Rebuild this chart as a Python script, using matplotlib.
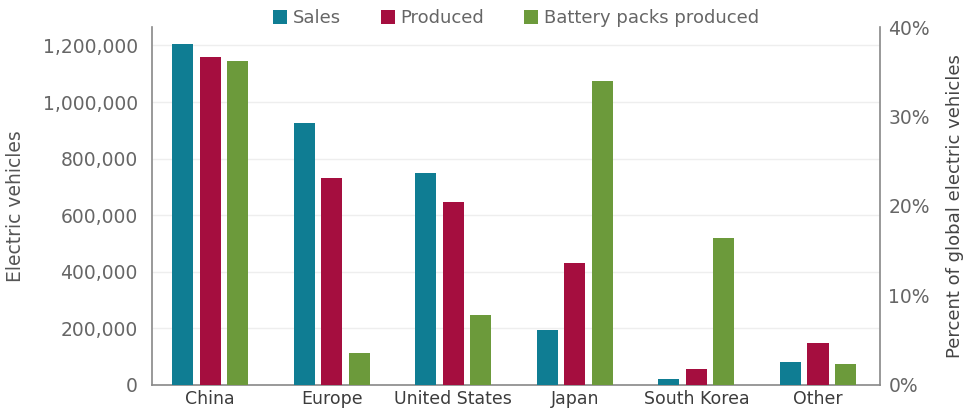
import numpy as np
import matplotlib
matplotlib.use("Agg")
import matplotlib.pyplot as plt
from matplotlib.ticker import FuncFormatter

regions = ["China", "Europe", "United States", "Japan", "South Korea", "Other"]
sales = [1207000, 926000, 748000, 194000, 20000, 80000]
produced = [1161000, 731000, 647000, 432000, 56000, 149000]
battery = [1145000, 114000, 247000, 1076000, 521000, 73000]
pct_ticks = [0, 10, 20, 30, 40]

series = [("Sales", sales, "#0f7d93"),
          ("Produced", produced, "#a50e3f"),
          ("Battery packs produced", battery, "#6c9a3b")]

plt.rcParams["font.family"] = ["DejaVu Sans"]
txt = "#666666"

fig = plt.figure(figsize=(9.66, 4.17), dpi=100)
ax = fig.add_axes([0.157, 0.077, 0.754, 0.858])
x = np.arange(len(regions))
w = 0.173
step = 0.226
for i, (name, vals, col) in enumerate(series):
    ax.bar(x + (i - 1) * step, vals, width=w, color=col, label=name, zorder=3)

ax.set_xlim(-0.48, 5.51)
ax.set_ylim(0, 1265000)
ax.set_yticks(np.arange(0, 1200001, 200000))
ax.yaxis.set_major_formatter(FuncFormatter(lambda v, p: "{:,.0f}".format(v)))
ax.set_xticks(x)
ax.set_xticklabels(regions, fontsize=12.5, color="#3c3c3c")
ax.tick_params(axis="y", labelsize=13.5, colors=txt, length=0, pad=10)
ax.tick_params(axis="x", length=0, pad=4)
ax.grid(axis="y", color="#eeeeee", lw=1, zorder=0)
for s in ["top", "right"]:
    ax.spines[s].set_visible(False)
for s in ["left", "bottom"]:
    ax.spines[s].set_color("#888888")
    ax.spines[s].set_linewidth(1.2)
ax.set_ylabel("Electric vehicles", fontsize=13.5, color="#555555")
ax.yaxis.set_label_coords(-0.174, 0.5)

ax2 = ax.twinx()
ax2.set_ylim(0, 40)
ax2.set_yticks(pct_ticks)
ax2.set_yticklabels(["%d%%" % t for t in pct_ticks])
ax2.tick_params(axis="y", labelsize=13.5, colors=txt, length=0, pad=6)
for s in ["top", "left", "bottom"]:
    ax2.spines[s].set_visible(False)
ax2.spines["right"].set_color("#888888")
ax2.spines["right"].set_linewidth(1.2)
ax2.set_ylabel("Percent of global electric vehicles", fontsize=13, color="#444444")
ax2.yaxis.set_label_coords(1.091, 0.5)

leg = ax.legend(loc="upper center", bbox_to_anchor=(0.5, 1.095), ncol=3, frameon=False,
                fontsize=13, handlelength=0.8, handleheight=0.8, handletextpad=0.3,
                columnspacing=2.2)
for t in leg.get_texts():
    t.set_color(txt)

fig.savefig("out.png", dpi=100)
